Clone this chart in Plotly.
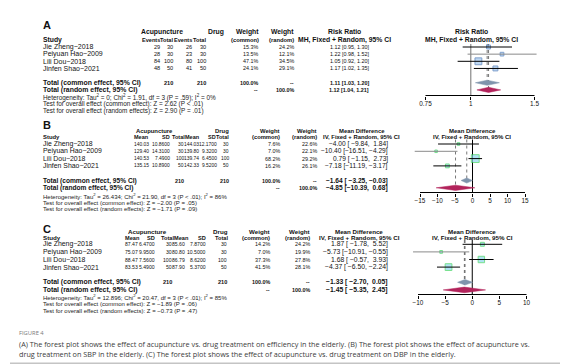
import math
import plotly.graph_objects as go

W, H = 568, 364
FONT = "Liberation Sans, Arial, Helvetica, sans-serif"
CAP_FONT = "Open Sans, Noto Sans, sans-serif"
NB = "\u00a0"

# ---------------- DATA ----------------
studies = ["Jie Zheng−2018", "Peiyuan Hao−2009", "Lili Dou−2018", "Jinfen Shao−2021"]

# Panel A (efficiency, risk ratio)
a_acu_events = [29, 28, 84, 48]
a_acu_total = [30, 30, 100, 50]
a_drug_events = [26, 23, 80, 41]
a_drug_total = [30, 30, 100, 50]
a_w_common = [15.3, 13.5, 47.1, 24.1]
a_w_random = [24.2, 12.1, 34.5, 29.1]
a_est = [1.12, 1.22, 1.05, 1.17]
a_lo = [0.95, 0.98, 0.92, 1.02]
a_hi = [1.30, 1.52, 1.20, 1.35]
a_common = [1.11, 1.03, 1.20]
a_random = [1.12, 1.04, 1.21]
a_totals = [210, 210]
a_het = "Heterogeneity: Tau<sup>2</sup> = 0; Chi<sup>2</sup> = 1.91, df = 3 (P = .59); I<sup>2</sup> = 0%"
a_test_common = "Test for overall effect (common effect): Z = 2.62 (P < .01)"
a_test_random = "Test for overall effect (random effects): Z = 2.90 (P = .01)"
a_ticks = [0.75, 1, 1.5]
a_tick_labels = ["0.75", "1", "1.5"]

# Panel B (SBP, mean difference)
b_acu_mean = [140.03, 129.40, 140.53, 135.15]
b_acu_sd = [10.86, 14.31, 7.49, 10.89]
b_acu_n = [30, 30, 100, 50]
b_drug_mean = [144.03, 139.80, 139.74, 142.33]
b_drug_sd = [12.17, 9.32, 6.45, 9.52]
b_drug_n = [30, 30, 100, 50]
b_w_common = [7.6, 7.0, 68.2, 16.2]
b_w_random = [22.6, 22.1, 29.2, 26.1]
b_est = [-4.00, -10.40, 0.79, -7.18]
b_lo = [-9.84, -16.51, -1.15, -11.19]
b_hi = [1.84, -4.29, 2.73, -3.17]
b_common = [-1.64, -3.25, -0.03]
b_random = [-4.85, -10.39, 0.68]
b_totals = [210, 210]
b_het = "Heterogeneity: Tau<sup>2</sup> = 26.434; Chi<sup>2</sup> = 21.90, df = 3 (P < .01); I<sup>2</sup> = 86%"
b_test_common = "Test for overall effect (common effect): Z = −2.00 (P = .05)"
b_test_random = "Test for overall effect (random effects): Z = −1.71 (P = .09)"
b_ticks = [-15, -10, -5, 0, 5, 10, 15]
b_tick_labels = ["−15", "−10", "−5", "0", "5", "10", "15"]

# Panel C (DBP, mean difference)
c_acu_mean = [87.47, 75.07, 88.47, 83.53]
c_acu_sd = [6.47, 9.95, 7.56, 5.49]
c_acu_n = [30, 30, 100, 50]
c_drug_mean = [85.60, 80.80, 86.79, 87.90]
c_drug_sd = [7.87, 10.50, 8.62, 5.37]
c_drug_n = [30, 30, 100, 50]
c_w_common = [14.2, 7.0, 37.3, 41.5]
c_w_random = [24.2, 19.9, 27.8, 28.1]
c_est = [1.87, -5.73, 1.68, -4.37]
c_lo = [-1.78, -10.91, -0.57, -6.50]
c_hi = [5.52, -0.55, 3.93, -2.24]
c_common = [-1.33, -2.70, 0.05]
c_random = [-1.45, -5.35, 2.45]
c_totals = [210, 210]
c_het = "Heterogeneity: Tau<sup>2</sup> = 12.896; Chi<sup>2</sup> = 20.47, df = 3 (P < .01); I<sup>2</sup> = 85%"
c_test_common = "Test for overall effect (common effect): Z = −1.89 (P = .06)"
c_test_random = "Test for overall effect (random effects): Z = −0.73 (P = .47)"
c_ticks = [-10, -5, 0, 5, 10]
c_tick_labels = ["−10", "−5", "0", "5", "10"]

caption_title = "FIGURE 4"
caption_lines = [
    "(A) The forest plot shows the effect of acupuncture vs. drug treatment on efficiency in the elderly. (B) The forest plot shows the effect of acupuncture vs.",
    "drug treatment on SBP in the elderly. (C) The forest plot shows the effect of acupuncture vs. drug treatment on DBP in the elderly.",
]

# ---------------- HELPERS ----------------
fig = go.Figure()
ann = []
shapes = []


def X(px):
    return px / W


def Y(py):
    return 1 - py / H


def txt(x, y, s, anchor="left", size=6.0, bold=False, color="#111111", family=FONT):
    ann.append(dict(x=X(x), y=Y(y), xref="paper", yref="paper",
                    text=(f"<b>{s}</b>" if bold else s), showarrow=False,
                    xanchor=anchor, yanchor="middle", borderpad=0,
                    font=dict(size=size, color=color, family=family)))


def num(v, d=2):
    return ("−" if v < 0 else "") + f"{abs(v):.{d}f}"


def ci_strings(est, lo, hi):
    los = [num(v) for v in lo]
    his = [num(v) for v in hi]
    wl = max(len(s) for s in los)
    wh = max(len(s) for s in his)
    out = []
    for e, l, h in zip(est, los, his):
        out.append(f"{num(e)} [{NB * (wl - len(l))}{l},{NB}{NB * (wh - len(h))}{h}]")
    return out


def pct(v):
    return f"{v:.1f}%"


def forest(k, cfg):
    xa = "x" if k == 1 else f"x{k}"
    ya = "y" if k == 1 else f"y{k}"
    rows = [cfg["row0"] + i * cfg["step"] for i in range(len(cfg["est"]))]
    yc = cfg["row0"] + 5 * cfg["step"]
    yr = cfg["row0"] + 6 * cfg["step"]
    top = cfg["line_top"]
    ax = cfg["axis"]
    common, random = cfg["common"], cfg["random"]

    def tr(**kw):
        base = dict(xaxis=xa, yaxis=ya, hoverinfo="skip", showlegend=False)
        base.update(kw)
        fig.add_trace(go.Scatter(**base))

    tr(x=[cfg["null"], cfg["null"]], y=[top, ax], mode="lines",
       line=dict(color=cfg["null_color"], width=cfg["null_width"]))
    tr(x=[common[0], common[0]], y=[top, yc], mode="lines",
       line=dict(color="#555555", width=0.8, dash="dot"))
    tr(x=[random[0], random[0]], y=[top, yr], mode="lines",
       line=dict(color="#555555", width=0.8, dash="dot"))
    tr(x=cfg["est"], y=rows, mode="markers",
       marker=dict(symbol="square", size=[cfg["sq_scale"] * math.sqrt(w) for w in cfg["w"]],
                   color=cfg["sq_fill"], line=dict(color=cfg["sq_line"], width=1)))
    tmin, tmax = cfg["ticks"][0], cfg["ticks"][-1]
    for e, l, h, r in zip(cfg["est"], cfg["lo"], cfg["hi"], rows):
        col = "#8a8a8a" if (l < tmin or h > tmax) else "#000000"
        tr(x=[l, h], y=[r, r], mode="lines", line=dict(color=col, width=1))
    dh = cfg["dh"]
    for (e, l, h), yy, col in ((common, yc, "#7f94ac"), (random, yr, "#b2235b")):
        tr(x=[l, e, h, e, l], y=[yy, yy - dh, yy, yy + dh, yy], mode="lines",
           fill="toself", fillcolor=col, line=dict(color=col, width=0.5))
    tr(x=[tmin, tmax], y=[ax, ax], mode="lines", line=dict(color="#000000", width=1))

    fig.update_layout(**{
        ("xaxis" if k == 1 else f"xaxis{k}"): dict(
            domain=[X(cfg["dom"][0]), X(cfg["dom"][1])], range=cfg["range"], type=cfg["type"],
            anchor=ya, tickvals=cfg["ticks"], ticktext=cfg["tick_labels"], ticks="outside",
            ticklen=3, tickwidth=1, tickcolor="#000000", showgrid=False, zeroline=False,
            showline=False, ticklabelstandoff=-2,
            tickfont=dict(size=6.4, family=FONT, color="#111111")),
        ("yaxis" if k == 1 else f"yaxis{k}"): dict(
            domain=[Y(ax + 0.5), Y(cfg["top"])], range=[ax + 0.5, cfg["top"]],
            visible=False, anchor=xa, fixedrange=True),
    })

    txt(cfg["fh_x"], cfg["hdr1"], cfg["fh1"], "center", size=cfg["fs_hdr"], bold=True)
    txt(cfg["fh_x"], cfg["hdr2"], cfg["fh2"], "center", size=cfg["fs_hdr"], bold=True)
    return rows, yc, yr


# ---------------- PANEL A ----------------
A = dict(row0=39.0, step=7.15, axis=87.5, top=20, line_top=36, hdr1=24, hdr2=31.8,
         est=a_est, lo=a_lo, hi=a_hi, w=a_w_common, common=a_common, random=a_random,
         ticks=a_ticks, tick_labels=a_tick_labels, type="log",
         dom=(400, 545), null=1, null_color="#9a9a9a", null_width=1.4,
         sq_fill="#a3c8ee", sq_line="#4a78b8", sq_scale=1.0, dh=2.6,
         fh_x=463, fh1="Risk Ratio", fh2="MH, Fixed + Random, 95% CI", fs_hdr=6.8)
k_px = (526.5 - 417.5) / (math.log10(1.5) - math.log10(0.75))
A["range"] = [math.log10(0.75) - (417.5 - 400) / k_px, math.log10(1.5) + (545 - 526.5) / k_px]
rows, yc, yr = forest(1, A)
fa = dict(hdr=6.8, col=5.6, name=7.0, num=5.6, w=5.4, ci=5.4, tot=6.9, het=6.4)
colA = dict(e1=153, t1=166, e2=185, t2=199, drug=217, wc=251, wr=287, ci=362, ci_c=336)
txt(34, 16.7, "A", bold=True, size=11)
txt(132, A["hdr1"], "Acupuncture", size=fa["hdr"], bold=True)
txt(colA["drug"], A["hdr1"], "Drug", "right", size=fa["hdr"], bold=True)
txt(colA["wc"] + 1, A["hdr1"], "Weight", "right", size=fa["hdr"], bold=True)
txt(colA["wr"], A["hdr1"], "Weight", "right", size=fa["hdr"], bold=True)
txt(colA["ci_c"], A["hdr1"], "Risk Ratio", "center", size=fa["hdr"], bold=True)
txt(34, A["hdr2"], "Study", size=fa["hdr"], bold=True)
for key, s in (("e1", "Events"), ("t1", "Total"), ("e2", "Events"), ("t2", "Total"),
               ("wc", "(common)"), ("wr", "(random)")):
    txt(colA[key] + (1 if key == "wc" else 0), A["hdr2"], s, "right",
        size=(5.8 if key in ("wc", "wr") else fa["col"]), bold=True)
txt(colA["ci_c"], A["hdr2"], "MH, Fixed + Random, 95% CI", "center", size=fa["hdr"], bold=True)
a_ci = ci_strings(a_est + [a_common[0], a_random[0]], a_lo + [a_common[1], a_random[1]],
                  a_hi + [a_common[2], a_random[2]])
for i, r in enumerate(rows):
    txt(34, r, studies[i], size=fa["name"])
    txt(colA["e1"], r, str(a_acu_events[i]), "right", size=fa["num"])
    txt(colA["t1"], r, str(a_acu_total[i]), "right", size=fa["num"])
    txt(colA["e2"], r, str(a_drug_events[i]), "right", size=fa["num"])
    txt(colA["t2"], r, str(a_drug_total[i]), "right", size=fa["num"])
    txt(colA["wc"], r, pct(a_w_common[i]), "right", size=fa["w"])
    txt(colA["wr"], r, pct(a_w_random[i]), "right", size=fa["w"])
    txt(colA["ci"], r, a_ci[i], "right", size=fa["ci"])
txt(34, yc, "Total (common effect, 95% CI)", size=fa["tot"], bold=True)
txt(colA["t1"], yc, str(a_totals[0]), "right", size=fa["num"], bold=True)
txt(colA["t2"], yc, str(a_totals[1]), "right", size=fa["num"], bold=True)
txt(colA["wc"], yc, "100.0%", "right", size=fa["w"], bold=True)
txt(colA["wr"], yc, "--", "right", size=fa["w"], bold=True)
txt(colA["ci"], yc, a_ci[4], "right", size=fa["ci"], bold=True)
txt(34, yr, "Total (random effect, 95% CI)", size=fa["tot"], bold=True)
txt(colA["wc"], yr, "--", "right", size=fa["w"], bold=True)
txt(colA["wr"], yr, "100.0%", "right", size=fa["w"], bold=True)
txt(colA["ci"], yr, a_ci[5], "right", size=fa["ci"], bold=True)
txt(34, 89.3, a_het, size=fa["het"], color="#222222")
txt(34, 96.3, a_test_common, size=fa["het"], color="#222222")
txt(34, 103.2, a_test_random, size=fa["het"], color="#222222")


# ---------------- PANELS B, C ----------------
def md_panel(k, label, label_y, cfg, cols, hcols, fs, data):
    rows, yc, yr = forest(k, cfg)
    (acu_mean, acu_sd, acu_n, drug_mean, drug_sd, drug_n, wc, wr, est, lo, hi,
     common, random, totals, het, t1, t2) = data
    txt(34, label_y, label, bold=True, size=11)
    h1, h2 = cfg["hdr1"], cfg["hdr2"]
    txt(cols["acu_hdr"], h1, "Acupuncture", size=fs["hdr"], bold=True)
    txt(hcols["dn"], h1, "Drug", "right", size=fs["hdr"], bold=True)
    txt(cols["wc"], h1, "Weight", "right", size=fs["hdr"], bold=True)
    txt(cols["wr"], h1, "Weight", "right", size=fs["hdr"], bold=True)
    txt(cols["md_c"], h1, "Mean Difference", "center", size=fs["hdr"], bold=True)
    txt(34, h2, "Study", size=fs["hdr"], bold=True)
    for key, s in (("am", "Mean"), ("asd", "SD"), ("an", "Total"), ("dm", "Mean"),
                   ("dsd", "SD"), ("dn", "Total")):
        txt(hcols[key], h2, s, "right", size=fs["col"], bold=True)
    txt(cols["wc"], h2, "(common)", "right", size=5.8, bold=True)
    txt(cols["wr"], h2, "(random)", "right", size=5.8, bold=True)
    txt(cols["md_c"], h2, "IV, Fixed + Random, 95% CI", "center", size=fs["hdr"], bold=True)
    ci = ci_strings(est + [common[0], random[0]], lo + [common[1], random[1]],
                    hi + [common[2], random[2]])
    for i, r in enumerate(rows):
        txt(34, r, studies[i], size=fs["name"])
        txt(cols["am"], r, f"{acu_mean[i]:.2f}", "right", size=fs["num"])
        txt(cols["asd"], r, f"{acu_sd[i]:.4f}", "right", size=fs["num"])
        txt(cols["an"], r, str(acu_n[i]), "right", size=fs["num"])
        txt(cols["dm"], r, f"{drug_mean[i]:.2f}", "right", size=fs["num"])
        txt(cols["dsd"], r, f"{drug_sd[i]:.4f}", "right", size=fs["num"])
        txt(cols["dn"], r, str(drug_n[i]), "right", size=fs["num"])
        txt(cols["wc"], r, pct(wc[i]), "right", size=fs["w"])
        txt(cols["wr"], r, pct(wr[i]), "right", size=fs["w"])
        txt(cols["md_r"], r, ci[i], "right", size=fs["ci"])
    txt(34, yc, "Total (common effect, 95% CI)", size=fs["tot"], bold=True)
    txt(cols["an"], yc, str(totals[0]), "right", size=fs["num"] + 0.5, bold=True)
    txt(cols["dn"], yc, str(totals[1]), "right", size=fs["num"] + 0.5, bold=True)
    txt(cols["wc"], yc, "100.0%", "right", size=fs["w"], bold=True)
    txt(cols["wr"], yc, "--", "right", size=fs["w"], bold=True)
    txt(cols["md_r"], yc, ci[4], "right", size=fs["ci"], bold=True)
    txt(34, yr, "Total (random effect, 95% CI)", size=fs["tot"], bold=True)
    txt(cols["wc"], yr, "--", "right", size=fs["w"], bold=True)
    txt(cols["wr"], yr, "100.0%", "right", size=fs["w"], bold=True)
    txt(cols["md_r"], yr, ci[5], "right", size=fs["ci"], bold=True)
    txt(34, cfg["het"], het, size=fs["het"], color="#222222")
    txt(34, cfg["het"] + 6.8, t1, size=fs["het"], color="#222222")
    txt(34, cfg["het"] + 13.6, t2, size=fs["het"], color="#222222")


B = dict(row0=136.0, step=7.3, axis=184.5, top=118, line_top=131.5, hdr1=122.5, hdr2=129.0,
         est=b_est, lo=b_lo, hi=b_hi, w=b_w_common, common=b_common, random=b_random,
         ticks=b_ticks, tick_labels=b_tick_labels, type="linear",
         dom=(395, 540), null=0, null_color="#000000", null_width=1,
         sq_fill="#8fd6ee", sq_line="#3fd45e", sq_scale=0.95, dh=2.6,
         fh_x=464, fh1="Mean Difference", fh2="IV, Fixed + Random, 95% CI", fs_hdr=6.0,
         het=187.8)
kb = (517 - 412) / 30.0
B["range"] = [(395 - 464.5) / kb, (540 - 464.5) / kb]
B_cols = dict(acu_hdr=127, am=141.5, asd=162.5, an=177, dm=192, dsd=209.5, dn=221.5,
              wc=273, wr=310, md_c=353.5, md_r=381)
B_hcols = dict(am=141.5, asd=162.5, an=177.5, dm=192.5, dsd=209, dn=222)
B_fs = dict(hdr=5.9, col=5.5, name=6.9, num=4.9, w=5.4, ci=6.6, tot=6.6, het=6.0)
md_panel(2, "B", 117.0, B, B_cols, B_hcols, B_fs,
         (b_acu_mean, b_acu_sd, b_acu_n, b_drug_mean, b_drug_sd, b_drug_n, b_w_common,
          b_w_random, b_est, b_lo, b_hi, b_common, b_random, b_totals, b_het,
          b_test_common, b_test_random))

C = dict(row0=236.3, step=7.6, axis=286.5, top=219, line_top=232, hdr1=223, hdr2=229.5,
         est=c_est, lo=c_lo, hi=c_hi, w=c_w_common, common=c_common, random=c_random,
         ticks=c_ticks, tick_labels=c_tick_labels, type="linear",
         dom=(395, 540), null=0, null_color="#000000", null_width=1,
         sq_fill="#8fd6ee", sq_line="#3fd45e", sq_scale=1.05, dh=2.8,
         fh_x=464, fh1="Mean Difference", fh2="IV, Fixed + Random, 95% CI", fs_hdr=6.2,
         het=289.3)
kc = (518.5 - 410) / 20.0
C["range"] = [(395 - 464.25) / kc, (540 - 464.25) / kc]
C_cols = dict(acu_hdr=119, am=131, asd=148, an=165, dm=178, dsd=199, dn=220,
              wc=263, wr=303, md_c=351, md_r=381)
C_hcols = dict(am=133, asd=148, an=167, dm=181.5, dsd=199, dn=221)
C_fs = dict(hdr=6.2, col=5.6, name=6.9, num=5.1, w=5.4, ci=6.8, tot=6.9, het=6.0)
md_panel(3, "C", 221, C, C_cols, C_hcols, C_fs,
         (c_acu_mean, c_acu_sd, c_acu_n, c_drug_mean, c_drug_sd, c_drug_n, c_w_common,
          c_w_random, c_est, c_lo, c_hi, c_common, c_random, c_totals, c_het,
          c_test_common, c_test_random))

# ---------------- CAPTION ----------------
txt(10, 324.5, caption_title, size=5.8, color="#7a7a7a", family=CAP_FONT)
txt(10, 336.0, caption_lines[0], size=7.25, color="#3a3a3a", family=CAP_FONT)
txt(10, 345.6, caption_lines[1], size=7.25, color="#3a3a3a", family=CAP_FONT)

# ---------------- CARD SHADOW ----------------
for x0, x1, y0, y1, col in ((556, 559, 13, 358, "#c4c4c4"), (559, 562, 14, 360, "#e2e2e2"),
                            (2, 559, 354.5, 357.5, "#c4c4c4"), (3, 562, 357.5, 360, "#e2e2e2")):
    shapes.append(dict(type="rect", xref="paper", yref="paper", x0=X(x0), x1=X(x1),
                       y0=Y(y1), y1=Y(y0), fillcolor=col, line=dict(width=0), layer="below"))

fig.update_layout(width=W, height=H, margin=dict(l=0, r=0, t=0, b=0),
                  paper_bgcolor="#ffffff", plot_bgcolor="rgba(0,0,0,0)",
                  annotations=ann, shapes=shapes, showlegend=False)
fig.write_html("out.html")
